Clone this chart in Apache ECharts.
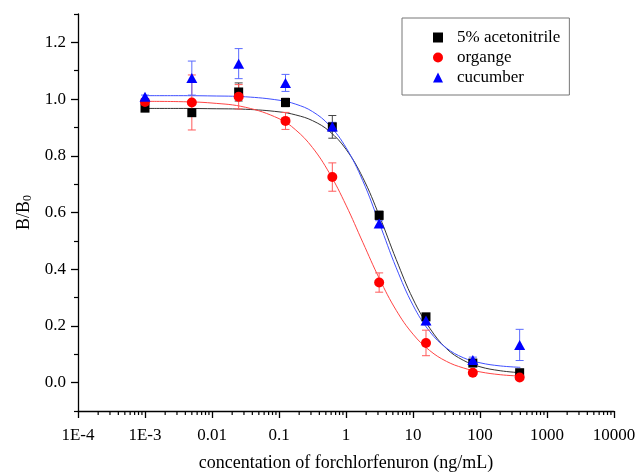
<!DOCTYPE html>
<html><head><meta charset="utf-8">
<script src="https://cdn.jsdelivr.net/npm/echarts@6/dist/echarts.min.js"></script>
<style>html,body{margin:0;padding:0;background:#fff}#c{width:636px;height:472px}</style>
</head><body><div id="c"></div>
<script>
// measured points (5-fold dilutions)
const conc = [0.001, 0.005, 0.025, 0.125, 0.625, 3.125, 15.625, 78.125, 390.625];
const acetonitrile = [0.968, 0.952, 1.025, 0.988, 0.902, 0.590, 0.232, 0.069, 0.035];
const acetonitrileErr = [0.008, 0.012, 0.032, 0.015, 0.040, 0.015, 0.012, 0.008, 0.006];
const orange = [0.990, 0.988, 1.008, 0.923, 0.725, 0.353, 0.140, 0.035, 0.018];
const orangeErr = [0.008, 0.097, 0.043, 0.030, 0.050, 0.034, 0.045, 0.006, 0.005];
const cucumber = [1.008, 1.074, 1.125, 1.057, 0.903, 0.561, 0.219, 0.080, 0.133];
const cucumberErr = [0.006, 0.060, 0.053, 0.030, 0.015, 0.010, 0.015, 0.010, 0.055];

// fitted curves
const curveX = [0.001, 0.00316, 0.01, 0.0316, 0.1, 0.178, 0.316, 0.562, 1, 1.78, 3.16, 5.62, 10, 17.8, 31.6, 56.2, 100, 200, 400];
const curveAcetonitrile = [0.967, 0.967, 0.966, 0.964, 0.955, 0.944, 0.924, 0.887, 0.823, 0.723, 0.587, 0.434, 0.295, 0.192, 0.120, 0.079, 0.056, 0.042, 0.035];
const curveOrange = [0.992, 0.991, 0.986, 0.971, 0.931, 0.891, 0.829, 0.740, 0.626, 0.495, 0.366, 0.255, 0.171, 0.113, 0.075, 0.052, 0.038, 0.028, 0.023];
const curveCucumber = [1.012, 1.012, 1.011, 1.008, 0.996, 0.982, 0.956, 0.908, 0.829, 0.712, 0.561, 0.405, 0.273, 0.180, 0.122, 0.088, 0.070, 0.059, 0.054];

// axes
const xTickLabels = ['1E-4', '1E-3', '0.01', '0.1', '1', '10', '100', '1000', '10000'];
const xDecades = [-4, -3, -2, -1, 0, 1, 2, 3];
const xMinorMultipliers = [2, 3, 4, 5, 6, 7, 8, 9];
const yMin = -0.1, yMax = 1.3;
const yTickValues = [0, 0.2, 0.4, 0.6, 0.8, 1.0, 1.2];
const yMinorValues = [-0.1, 0.1, 0.3, 0.5, 0.7, 0.9, 1.1, 1.3];

const FONT = 'Liberation Serif';
const xMinor = [];
xDecades.forEach(d => xMinorMultipliers.forEach(m => xMinor.push([m * Math.pow(10, d), yMin])));

function errorBars(vals, errs, color) {
  return {
    type: 'custom', silent: true, z: 3, clip: false,
    data: conc.map((c, i) => [c, vals[i], errs[i]]),
    encode: { x: 0, y: 1 },
    renderItem: (params, api) => {
      const x = api.value(0), y = api.value(1), e = api.value(2);
      const t = api.coord([x, y + e]), b = api.coord([x, y - e]);
      const w = 4;
      const st = { stroke: color, lineWidth: 1 };
      return { type: 'group', children: [
        { type: 'line', shape: { x1: t[0], y1: t[1], x2: b[0], y2: b[1] }, style: st },
        { type: 'line', shape: { x1: t[0] - w, y1: t[1], x2: t[0] + w, y2: t[1] }, style: st },
        { type: 'line', shape: { x1: b[0] - w, y1: b[1], x2: b[0] + w, y2: b[1] }, style: st }
      ] };
    }
  };
}
function curve(vals, color) {
  return {
    type: 'line', silent: true, z: 2, smooth: 0.4, symbol: 'none',
    data: curveX.map((c, i) => [c, vals[i]]),
    lineStyle: { color: color, width: 1 }
  };
}
function points(name, vals, symbol, size, color) {
  return {
    type: 'scatter', name: name, z: 5, symbol: symbol, symbolSize: size,
    data: conc.map((c, i) => [c, vals[i]]),
    itemStyle: { color: color, opacity: 1 }
  };
}

const chart = echarts.init(document.getElementById('c'));
chart.setOption({
  animation: false,
  backgroundColor: '#fff',
  textStyle: { fontFamily: FONT },
  grid: { left: 78, right: 22, top: 14, bottom: 61, containLabel: false, outerBoundsMode: 'none' },
  legend: {
    left: 402, top: 18, orient: 'vertical',
    data: [{ name: '5% acetonitrile', icon: 'rect' }, { name: 'organge', icon: 'circle' }, { name: 'cucumber', icon: 'triangle' }],
    itemWidth: 10, itemHeight: 10, itemGap: 3,
    padding: [11, 9, 9, 31],
    borderColor: '#777', borderWidth: 1,
    textStyle: { fontSize: 17, fontFamily: FONT, color: '#000', padding: [0, 0, 0, 9], lineHeight: 17 }
  },
  xAxis: {
    type: 'log', logBase: 10, min: 1e-4, max: 1e4,
    name: 'concentation of forchlorfenuron (ng/mL)', nameLocation: 'middle', nameGap: 43,
    nameTextStyle: { fontSize: 18, fontFamily: FONT, color: '#000' },
    axisLine: { show: true, onZero: false, lineStyle: { color: '#000', width: 1.3 } },
    axisTick: { show: true, length: 7, lineStyle: { color: '#000', width: 1.3 } },
    axisLabel: { margin: 16, fontSize: 17, fontFamily: FONT, color: '#000',
      formatter: v => xTickLabels[Math.round(Math.log10(v)) + 4] },
    splitLine: { show: false }, minorTick: { show: false }
  },
  yAxis: [{
    type: 'value', min: yMin, max: yMax, position: 'left',
    name: '{b|B/B}{s|0}', nameLocation: 'middle', nameGap: 44, nameRotate: 90,
    nameTextStyle: { color: '#000', rich: {
      b: { fontSize: 18, fontFamily: FONT, color: '#000' },
      s: { fontSize: 12, fontFamily: FONT, color: '#000', padding: [8, 0, 0, 0] }
    } },
    axisLine: { show: true, onZero: false, lineStyle: { color: '#000', width: 1.3 } },
    axisTick: { show: true, length: 7, customValues: yTickValues, lineStyle: { color: '#000', width: 1.3 } },
    axisLabel: { customValues: yTickValues, margin: 12, fontSize: 17, fontFamily: FONT, color: '#000',
      formatter: v => v.toFixed(1) },
    splitLine: { show: false }
  }, {
    type: 'value', min: yMin, max: yMax, position: 'left', offset: 0,
    axisLine: { show: false, onZero: false },
    axisTick: { show: true, length: 4, customValues: yMinorValues, lineStyle: { color: '#000', width: 1.2 } },
    axisLabel: { show: false }, splitLine: { show: false }
  }],
  series: [
    {
      type: 'custom', silent: true, clip: false, z: 1,
      data: xMinor, encode: { x: 0, y: 1 },
      renderItem: (params, api) => {
        const p = api.coord([api.value(0), api.value(1)]);
        return { type: 'line', shape: { x1: p[0], y1: p[1], x2: p[0], y2: p[1] + 4 }, style: { stroke: '#000', lineWidth: 1.2 } };
      }
    },
    curve(curveAcetonitrile, '#333333'),
    curve(curveOrange, '#ff4545'),
    curve(curveCucumber, '#4050ff'),
    errorBars(acetonitrile, acetonitrileErr, '#444444'),
    errorBars(orange, orangeErr, '#ff5a5a'),
    errorBars(cucumber, cucumberErr, '#5a6aff'),
    points('5% acetonitrile', acetonitrile, 'rect', 9, '#000000'),
    points('organge', orange, 'circle', 10, '#ff0000'),
    points('cucumber', cucumber, 'triangle', [11, 10], '#0000ff')
  ]
});
</script></body></html>
